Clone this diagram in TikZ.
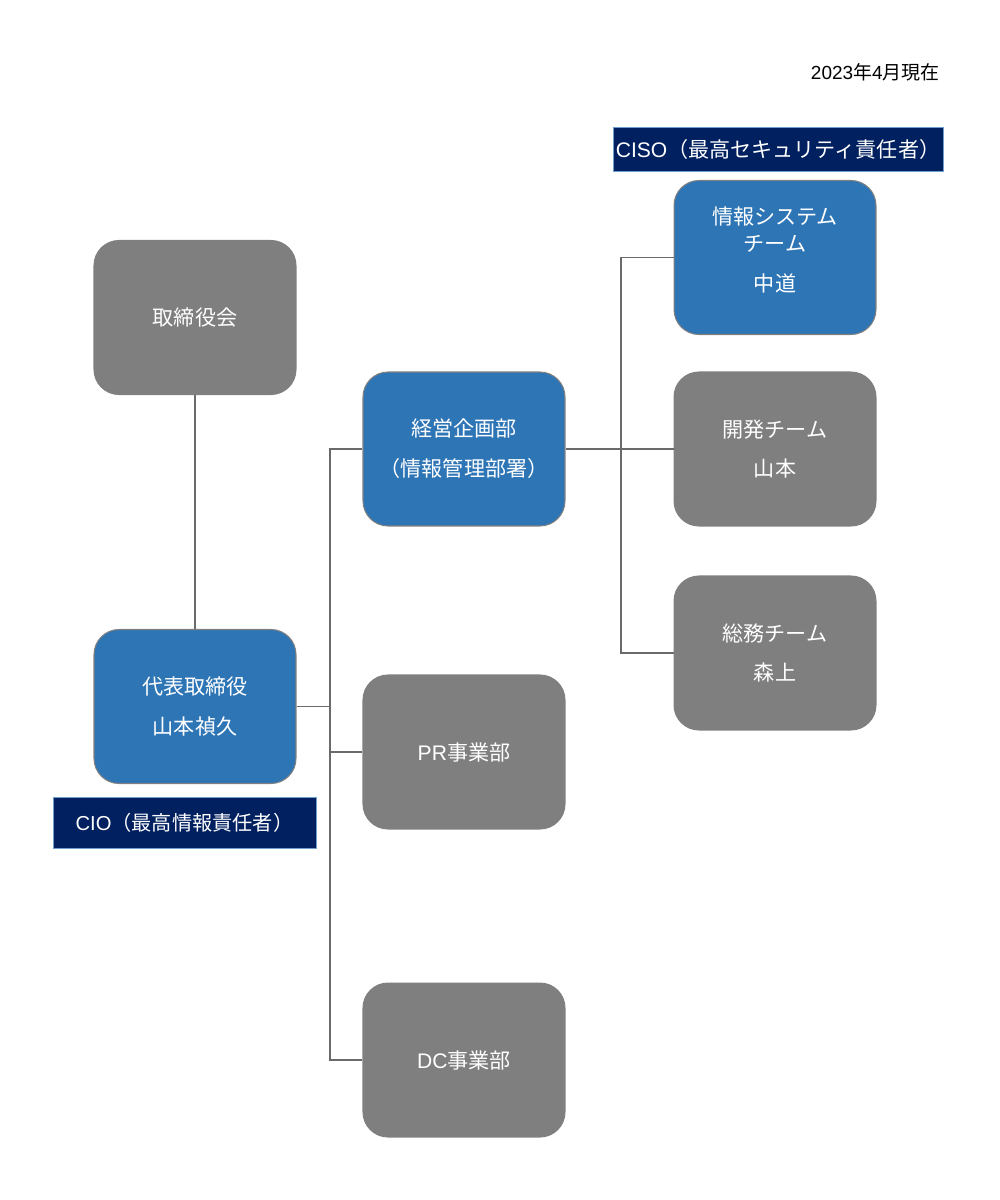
\documentclass[tikz,border=0pt]{standalone}
\usepackage{fontspec}
\setmainfont{Noto Sans CJK JP}
\newfontfamily\latinfont{Liberation Sans}
\newcommand{\lat}[1]{{\latinfont #1}}
\usetikzlibrary{positioning}
\definecolor{boxblue}{HTML}{2E75B6}
\definecolor{boxgray}{HTML}{7F7F7F}
\definecolor{navy}{HTML}{002060}
\definecolor{linegray}{HTML}{6A6A6A}

\begin{document}
\begin{tikzpicture}[
  x=0.02cm, y=-0.02cm,
  unit/.style={draw=black!50, line width=0.6pt, rounded corners=0.5cm,
               minimum width=4.04cm, minimum height=3.08cm, inner sep=0pt,
               align=center, text=white, font=\fontsize{12}{15.3}\selectfont},
  grayunit/.style={unit, fill=boxgray},
  blueunit/.style={unit, fill=boxblue},
  role/.style={draw=boxblue!70, line width=0.5pt, fill=navy, text=white,
               inner sep=0pt, minimum height=1.02cm},
  link/.style={draw=linegray, line width=0.6pt}
]
\useasboundingbox (0,0) rectangle (1000,1200);

\node[anchor=east, inner sep=0pt, font=\fontsize{10.8}{12}\selectfont] (date) at (940,72) {\lat{2023}年\lat{4}月現在};

\node[grayunit] (board) at (195,317.5) {取締役会};
\node[blueunit] (ceo)   at (195,706.5) {代表取締役\\[7.4pt]山本禎久};
\node[role, minimum width=5.26cm, font=\fontsize{11.5}{14}\selectfont]
  (cio) at (184.5,822.5) {\lat{CIO}（最高情報責任者）};

\node[blueunit] (keiei) at (464,449)  {経営企画部\\[7.4pt]（情報管理部署）};
\node[grayunit] (pr)    at (464,752)  {\lat{PR}事業部};
\node[grayunit] (dc)    at (464,1060) {\lat{DC}事業部};

\node[blueunit] (jsys)     at (775,257.5) {情報システム\\チーム\\[7.4pt]中道\\[-5.6pt]};
\node[grayunit] (kaihatsu) at (775,449)   {開発チーム\\[7.4pt]山本};
\node[grayunit] (somu)     at (775,653)   {総務チーム\\[7.4pt]森上};
\node[role, minimum width=6.6cm, minimum height=0.88cm, font=\fontsize{12}{14}\selectfont]
  (ciso) at (778,149) {\lat{CISO}（最高セキュリティ責任者）};

\coordinate (trunk)  at (330,706.5);
\coordinate (branch) at (621,449);

\draw[link] (board) -- (ceo);
\draw[link] (ceo.east) -- (trunk);
\draw[link] (keiei.west) -| (trunk) |- (dc.west);
\draw[link] (pr.west) -- (trunk |- pr.west);
\draw[link] (keiei.east) -- (kaihatsu.west);
\draw[link] (jsys.west) -| (branch) |- (somu.west);
\end{tikzpicture}
\end{document}
